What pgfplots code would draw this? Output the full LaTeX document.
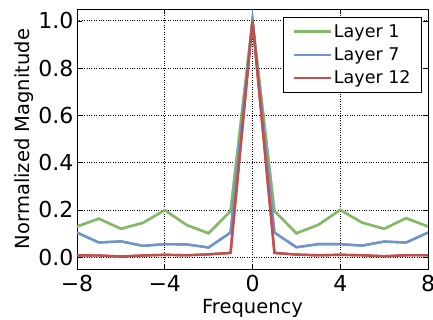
\documentclass[border=0pt]{standalone}
\usepackage{fontspec}
\setmainfont{DejaVu Sans}
\usepackage{pgfplots}
\pgfplotsset{compat=1.18}
\definecolor{layerG}{RGB}{133,185,103}
\definecolor{layerB}{RGB}{112,148,204}
\definecolor{layerR}{RGB}{192,80,77}
\begin{document}
\begin{tikzpicture}
\begin{axis}[name=ax, scale only axis, width=351bp, height=260bp,
 xmin=-8, xmax=8, ymin=-0.05, ymax=1.05,
 xtick={-8,-4,0,4,8}, xticklabels={−8,−4,0,4,8},
 ytick={0,0.2,0.4,0.6,0.8,1.0}, yticklabels={0.0,0.2,0.4,0.6,0.8,1.0},
 tick label style={font=\fontsize{22bp}{26bp}\selectfont},
 xticklabel style={yshift=-3bp},
 label style={font=\fontsize{19.5bp}{23bp}\selectfont},
 xlabel={Frequency}, ylabel={Normalized Magnitude},
 xlabel style={yshift=0bp},
 ylabel style={yshift=-2bp},
 grid=major, grid style={black, dotted, line width=0.7pt},
 tick align=inside, major tick length=5bp, tick style={black, line width=0.6pt},
 axis line style={line width=0.8pt},
 legend style={at={(1,1)}, anchor=north east, xshift=-6bp, yshift=-8bp,
   font=\fontsize{17.5bp}{21bp}\selectfont, draw=black, line width=0.8pt,
   inner xsep=9bp, inner ysep=5bp, row sep=5bp, cells={anchor=west}},
 legend image code/.code={\draw[#1] (0bp,0bp) -- (27bp,0bp); \path (0bp,0bp) -- (37bp,0bp);},
 every axis plot post/.append style={line width=2.4pt, postaction={draw, line width=2.4pt}},
]
\addplot[draw=layerG] coordinates {(-8,0.13)(-7,0.163)(-6,0.12)(-5,0.145)(-4,0.199)(-3,0.136)(-2,0.101)(-1,0.195)(0,1.0)(1,0.195)(2,0.101)(3,0.137)(4,0.2)(5,0.146)(6,0.12)(7,0.165)(8,0.13)};
\addlegendentry{Layer 1}
\addplot[draw=layerB] coordinates {(-8,0.104)(-7,0.062)(-6,0.067)(-5,0.048)(-4,0.055)(-3,0.054)(-2,0.041)(-1,0.104)(0,1.0)(1,0.104)(2,0.042)(3,0.055)(4,0.055)(5,0.049)(6,0.066)(7,0.062)(8,0.104)};
\addlegendentry{Layer 7}
\addplot[draw=layerR] coordinates {(-8,0.008)(-7,0.007)(-6,0.003)(-5,0.007)(-4,0.01)(-3,0.008)(-2,0.012)(-1,0.018)(0,1.0)(1,0.018)(2,0.011)(3,0.008)(4,0.01)(5,0.008)(6,0.004)(7,0.008)(8,0.008)};
\addlegendentry{Layer 12}
\end{axis}
\pgfresetboundingbox
\path ([xshift=-77bp,yshift=-51bp]ax.south west) rectangle ([xshift=5bp,yshift=9bp]ax.north east);
\end{tikzpicture}
\end{document}
